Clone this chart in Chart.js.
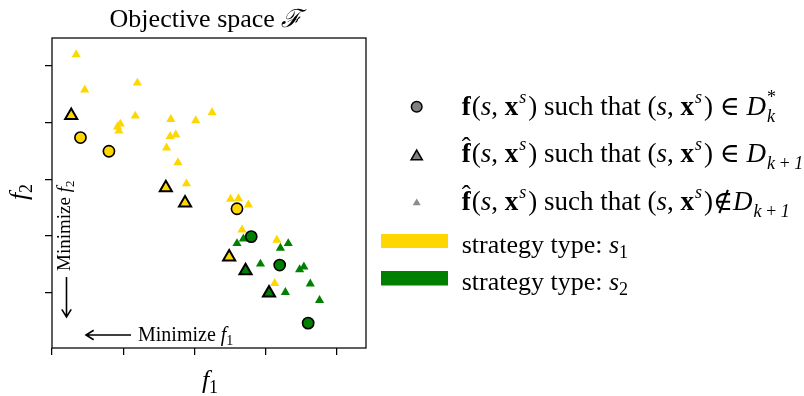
<!DOCTYPE html>
<html>
<head>
<meta charset="utf-8">
<script src="https://cdn.jsdelivr.net/npm/chart.js@4/dist/chart.umd.min.js"></script>
<style>
  html, body { margin: 0; padding: 0; background: #fff; }
  #wrap { width: 804px; height: 396px; }
</style>
</head>
<body>
<div id="wrap"><canvas id="c" width="804" height="396"></canvas></div>
<script>
// ---------- data ----------
const xTicks = [0, 1, 2, 3, 4];
const yTicks = [1, 2, 3, 4, 5];
const xRange = [0, 4.413];
const yRange = [0.033, 5.48];

// f(s, x^s) in D*_k  (circles)
const s1SolX = [0.40, 0.80, 2.60];
const s1SolY = [3.73, 3.49, 2.48];
const s2SolX = [2.80, 3.20, 3.60];
const s2SolY = [1.99, 1.49, 0.47];

// f^(s, x^s) in D_{k+1}  (large triangles)
const s1SelX = [0.27, 1.60, 1.87, 2.49];
const s1SelY = [4.12, 2.85, 2.58, 1.63];
const s2SelX = [2.72, 3.05];
const s2SelY = [1.39, 1.00];

// f^(s, x^s) not in D_{k+1}  (small triangles)
const s1OtherX = [0.34, 0.46, 1.20, 1.17, 1.67, 2.02, 2.25, 0.96, 0.92, 0.94, 1.66, 1.74, 1.61, 1.77, 1.89, 2.51, 2.62, 2.76, 2.67, 3.16, 3.13];
const s1OtherY = [5.19, 4.57, 4.69, 4.11, 4.05, 4.03, 4.17, 3.97, 3.92, 3.85, 3.75, 3.78, 3.55, 3.29, 2.92, 2.65, 2.66, 2.55, 2.11, 1.93, 1.17];
const s2OtherX = [2.60, 2.69, 3.21, 3.32, 2.93, 3.48, 3.54, 3.28, 3.63, 3.76];
const s2OtherY = [1.87, 1.95, 1.79, 1.87, 1.51, 1.41, 1.46, 1.01, 1.16, 0.87];

// texts
const titleText = 'Objective space ';
const titleSymbol = '\u2131';
const legendStrategy = ['strategy type: ', 'strategy type: '];
const annotX = 'Minimize ';
const annotY = 'Minimize ';

// ---------- styles ----------
const GOLD = '#FFD700';
const GREEN = '#008000';
const GREY = '#808080';
const SER = '"Liberation Serif", "DejaVu Serif", serif';
const fnt = (style, size) => `${style} ${size}px ${SER}`;

const zip = (xs, ys) => xs.map((x, i) => ({ x: x, y: ys[i] }));

// ---------- rich text helper ----------
function layoutRuns(ctx, runs) {
  let x = 0, prevStart = 0, prevW = 0, prevEnd = 0;
  const out = [];
  for (const r of runs) {
    ctx.font = r.f;
    const w = ctx.measureText(r.t).width;
    if (r.over) {
      out.push({ r, x: prevStart + (prevW - w) / 2 + (r.dx || 0) });
      continue;
    }
    if (r.stack) {
      out.push({ r, x: prevStart });
      x = Math.max(prevEnd, prevStart + w);
      prevEnd = x;
      continue;
    }
    out.push({ r, x: x });
    prevStart = x; prevW = w;
    x += w + (r.sp || 0);
    prevEnd = x;
  }
  return { items: out, width: x };
}
function drawRuns(ctx, x, y, runs, align) {
  const L = layoutRuns(ctx, runs);
  const x0 = align === 'center' ? x - L.width / 2 : x;
  ctx.textBaseline = 'alphabetic';
  ctx.textAlign = 'left';
  for (const it of L.items) {
    ctx.font = it.r.f;
    ctx.fillText(it.r.t, x0 + it.x, y + (it.r.dy || 0));
  }
}

function arrow(ctx, x1, y1, x2, y2) {
  const ang = Math.atan2(y2 - y1, x2 - x1);
  const hl = 9, hw = 0.55;
  ctx.beginPath();
  ctx.moveTo(x1, y1); ctx.lineTo(x2, y2);
  ctx.moveTo(x2 - hl * Math.cos(ang - hw), y2 - hl * Math.sin(ang - hw));
  ctx.lineTo(x2, y2);
  ctx.lineTo(x2 - hl * Math.cos(ang + hw), y2 - hl * Math.sin(ang + hw));
  ctx.stroke();
}

// ---------- decoration plugin ----------
const decor = {
  id: 'decor',
  afterDraw(chart) {
    const ctx = chart.ctx;
    const a = chart.chartArea;
    ctx.save();
    ctx.fillStyle = '#000';
    ctx.strokeStyle = '#000';

    // frame
    ctx.lineWidth = 1.25;
    ctx.strokeRect(a.left, a.top, a.right - a.left, a.bottom - a.top);

    const R = fnt('', 26), I = fnt('italic', 26);
    const Rs = fnt('', 18);

    // title
    drawRuns(ctx, (a.left + a.right) / 2 - 3, 27, [
      { t: titleText, f: R }, { t: titleSymbol, f: fnt('italic', 25) }
    ], 'center');

    // axis labels
    drawRuns(ctx, (a.left + a.right) / 2 + 1, 388, [
      { t: 'f', f: I }, { t: '1', f: Rs, dy: 5 }
    ], 'center');
    ctx.save();
    ctx.translate(27, 192);
    ctx.rotate(-Math.PI / 2);
    drawRuns(ctx, 0, 0, [{ t: 'f', f: I }, { t: '2', f: Rs, dy: 5 }], 'center');
    ctx.restore();

    // annotations
    const M = fnt('', 20), Mi = fnt('italic', 20), Ms = fnt('', 14);
    drawRuns(ctx, 138, 341, [{ t: annotX, f: M }, { t: 'f', f: Mi }, { t: '1', f: Ms, dy: 4 }]);
    ctx.lineWidth = 1.6;
    arrow(ctx, 131, 335, 86, 335);
    const Mv = fnt('', 19), Mvi = fnt('italic', 19), Mvs = fnt('', 13);
    ctx.save();
    ctx.translate(70, 271);
    ctx.rotate(-Math.PI / 2);
    drawRuns(ctx, 0, 0, [{ t: annotY, f: Mv }, { t: 'f', f: Mvi }, { t: '2', f: Mvs, dy: 4 }]);
    ctx.restore();
    arrow(ctx, 66.5, 277, 66.5, 317);

    // legend markers
    const H = Chart.helpers;
    const mx = 416.7;
    ctx.lineWidth = 1.5;
    ctx.fillStyle = GREY; ctx.strokeStyle = '#000';
    H.drawPoint(ctx, { pointStyle: 'circle', radius: 5.3, borderWidth: 1.5, rotation: 0 }, mx, 106.7);
    H.drawPoint(ctx, { pointStyle: 'triangle', radius: 6.5, borderWidth: 1.5, rotation: 0 }, mx, 156.5);
    ctx.fillStyle = '#8c8c8c';
    H.drawPoint(ctx, { pointStyle: 'triangle', radius: 4.6, borderWidth: 0, rotation: 0 }, mx, 203);

    // legend colour bars
    ctx.fillStyle = GOLD;
    ctx.fillRect(381, 234, 67, 14);
    ctx.fillStyle = GREEN;
    ctx.fillRect(381, 271, 67, 14.5);

    // legend texts
    ctx.fillStyle = '#000';
    const LR = fnt('', 27), LI = fnt('italic', 27), LB = fnt('bold', 27);
    const LRs = fnt('', 18), LIs = fnt('italic', 18);
    const tx = 461.7;
    const pair = (hat) => {
      const r = [{ t: 'f', f: LB, sp: 1 }];
      if (hat) r.push({ t: '\u02C6', f: LR, over: true, dy: -6 });
      r.push({ t: '(', f: LR }, { t: 's', f: LI }, { t: ', ', f: LR }, { t: 'x', f: LB, sp: 1 }, { t: 's', f: LIs, dy: -12, sp: 2 }, { t: ')', f: LR });
      return r;
    };
    const pairB = () => [{ t: '(', f: LR }, { t: 's', f: LI }, { t: ', ', f: LR }, { t: 'x', f: LB, sp: 1 }, { t: 's', f: LIs, dy: -12, sp: 2 }, { t: ')', f: LR }];
    drawRuns(ctx, tx, 115, [...pair(false), { t: ' such that ', f: LR }, ...pairB(),
      { t: ' \u2208 ', f: LR }, { t: 'D', f: LI, sp: 1 }, { t: '*', f: LRs, dy: -12 }, { t: 'k', f: LIs, dy: 7, stack: true }]);
    drawRuns(ctx, tx, 162, [...pair(true), { t: ' such that ', f: LR }, ...pairB(),
      { t: ' \u2208 ', f: LR }, { t: 'D', f: LI, sp: 1 }, { t: 'k\u2009+\u20091', f: LIs, dy: 7 }]);
    drawRuns(ctx, tx, 210, [...pair(true), { t: ' such that ', f: LR }, ...pairB(),
      { t: '\u2209', f: LR }, { t: 'D', f: LI, sp: 1 }, { t: 'k\u2009+\u20091', f: LIs, dy: 7 }]);
    drawRuns(ctx, tx, 253, [{ t: legendStrategy[0], f: R }, { t: 's', f: I }, { t: '1', f: Rs, dy: 5 }]);
    drawRuns(ctx, tx, 290, [{ t: legendStrategy[1], f: R }, { t: 's', f: I }, { t: '2', f: Rs, dy: 5 }]);

    ctx.restore();
  }
};

// ---------- chart ----------
const circle = (data, color) => ({
  data, pointStyle: 'circle', pointRadius: 5.6, pointBorderWidth: 1.6,
  pointBackgroundColor: color, pointBorderColor: '#000', showLine: false
});
const bigTri = (data, color) => ({
  data, pointStyle: 'triangle', pointRadius: 7, pointBorderWidth: 2,
  pointBackgroundColor: color, pointBorderColor: '#000', showLine: false
});
const smallTri = (data, color) => ({
  data, pointStyle: 'triangle', pointRadius: 5.3, pointBorderWidth: 0,
  pointBackgroundColor: color, pointBorderColor: color, showLine: false
});

new Chart(document.getElementById('c'), {
  type: 'scatter',
  data: {
    datasets: [
      circle(zip(s1SolX, s1SolY), GOLD),
      circle(zip(s2SolX, s2SolY), GREEN),
      bigTri(zip(s1SelX, s1SelY), GOLD),
      bigTri(zip(s2SelX, s2SelY), GREEN),
      smallTri(zip(s2OtherX, s2OtherY), GREEN),
      smallTri(zip(s1OtherX, s1OtherY), GOLD)
    ]
  },
  options: {
    responsive: false,
    devicePixelRatio: 1,
    animation: false,
    events: [],
    layout: { padding: { top: 38, right: 438, left: 0, bottom: 0 } },
    plugins: { legend: { display: false }, tooltip: { enabled: false }, title: { display: false } },
    scales: {
      x: {
        type: 'linear', min: xRange[0], max: xRange[1],
        afterBuildTicks: s => { s.ticks = xTicks.map(v => ({ value: v })); },
        afterFit: s => { s.height = 48; },
        ticks: { display: false },
        border: { display: false },
        grid: { drawOnChartArea: false, drawTicks: true, tickLength: 7, color: '#000', lineWidth: 1.25 }
      },
      y: {
        type: 'linear', min: yRange[0], max: yRange[1],
        afterBuildTicks: s => { s.ticks = yTicks.map(v => ({ value: v })); },
        afterFit: s => { s.width = 52; },
        ticks: { display: false },
        border: { display: false },
        grid: { drawOnChartArea: false, drawTicks: true, tickLength: 7, color: '#000', lineWidth: 1.25 }
      }
    }
  },
  plugins: [decor]
});
</script>
</body>
</html>
